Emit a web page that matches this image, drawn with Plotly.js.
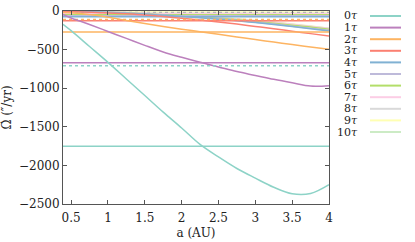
<!DOCTYPE html>
<html>
<head>
<meta charset="utf-8">
<script src="https://cdn.plot.ly/plotly-3.0.1.min.js"></script>
<style>html,body{margin:0;padding:0;background:#fff;}#chart{width:415px;height:242px;}</style>
</head>
<body>
<div id="chart"></div>
<script>
// ---- data ----
const seriesNames = ["0τ","1τ","2τ","3τ","4τ","5τ","6τ","7τ","8τ","9τ","10τ"];
const seriesColors = ["#8dd3c7","#bc80bd","#fdb462","#fb8072","#80b1d3","#bebada","#b3de69","#fccde5","#d9d9d9","#ffffb3","#ccebc5"];
const aGrid = [0.39,0.5,0.75,1.0,1.25,1.5,1.75,2.0,2.25,2.5,2.75,3.0,3.25,3.5,3.75,4.0];
const curve0 = [-172,-255,-460,-665,-880,-1095,-1310,-1515,-1728,-1890,-2040,-2165,-2283,-2368,-2364,-2250];
const curve1 = [-45,-90,-175,-265,-355,-445,-530,-600,-665,-725,-785,-835,-885,-930,-972,-967];
const curve2 = [-18,-22,-45,-80,-122,-162,-200,-235,-268,-302,-336,-370,-402,-435,-466,-497];
const curve3 = [-8,-10,-15,-25,-37,-52,-72,-95,-118,-143,-170,-200,-230,-262,-293,-325];
const curve4 = [-4,-5,-9,-18,-28,-40,-55,-70,-88,-106,-127,-150,-175,-202,-230,-260];
const curve5 = [-3,-4,-8,-16,-26,-38,-52,-67,-84,-102,-122,-145,-170,-196,-223,-250];
const curve6 = [-3,-4,-8,-15,-24,-35,-48,-62,-78,-95,-114,-135,-158,-183,-208,-238];
const curve7 = [-2,-3,-6,-12,-20,-30,-42,-56,-71,-88,-106,-127,-150,-174,-200,-228];
const curve8 = [-2,-3,-6,-12,-19,-29,-41,-54,-69,-86,-104,-125,-147,-171,-197,-225];
const curve9 = [-2,-3,-5,-11,-18,-28,-40,-53,-68,-84,-102,-122,-144,-168,-194,-222];
const curve10 = [-2,-3,-6,-12,-20,-31,-43,-57,-72,-89,-108,-129,-152,-177,-203,-232];
const constSolid = [-1752,-670,-272,-125,-75,-62,-50,-35,-28,-12,-45];
const constDashed = [-708,null,-110,null,null,null,null,null,-20,null,null];
const xTicks = [0.5,1,1.5,2,2.5,3,3.5,4];
const yTicks = [-2500,-2000,-1500,-1000,-500,0];
const xRange = [0.39,4.0];

const curves = [curve0,curve1,curve2,curve3,curve4,curve5,curve6,curve7,curve8,curve9,curve10];
const font = "DejaVu Serif";

const traces = [];
const order = [10,9,8,7,6,5,4,3,2,1,0];
order.forEach(i => {
  traces.push({x:[xRange[0],xRange[1]], y:[constSolid[i],constSolid[i]], mode:'lines',
    line:{color:seriesColors[i], width:1.5}, showlegend:false, hoverinfo:'skip'});
  if (constDashed[i] !== null) {
    traces.push({x:[xRange[0],xRange[1]], y:[constDashed[i],constDashed[i]], mode:'lines',
      line:{color: i===8 ? '#b5b5b5' : seriesColors[i], width:1.5, dash:'3px,3px'}, showlegend:false, hoverinfo:'skip'});
  }
  traces.push({x:aGrid, y:curves[i], mode:'lines',
    line:{color:seriesColors[i], width:1.5, shape:'spline', smoothing:1}, showlegend:false, name:seriesNames[i]});
});

// custom legend (label left, line sample right)
const L = 63, R = 329, T = 11, B = 204;
const annotations = [], shapes = [];
seriesNames.forEach((nm, i) => {
  const ypx = 16 + i*11.6;
  const yp = 1 - (ypx - T)/(B - T);
  annotations.push({xref:'paper', yref:'paper', x:(359-L)/(R-L), y:yp, xanchor:'right', yanchor:'middle',
    text: nm.replace('τ','<i>τ</i>'), showarrow:false, font:{family:font, size:11, color:'#222'},
    borderpad:0});
  shapes.push({type:'line', xref:'paper', yref:'paper', x0:(370-L)/(R-L), x1:(401-L)/(R-L), y0:yp, y1:yp,
    line:{color:seriesColors[i], width:2}});
});

const axisCommon = {showgrid:false, zeroline:false, showline:true, linecolor:'#555', linewidth:1,
  mirror:'ticks', ticks:'inside', ticklen:4, tickcolor:'#555', tickwidth:1,
  tickfont:{family:font, size:12, color:'#222'}};

const layout = {
  width:415, height:242,
  margin:{l:L, r:415-R, t:T, b:242-B},
  paper_bgcolor:'#fff', plot_bgcolor:'#fff',
  showlegend:false,
  xaxis: Object.assign({}, axisCommon, {range:xRange, tickvals:xTicks, ticklabelstandoff:3,
    title:{text:'a (AU)', font:{family:font, size:12, color:'#222'}, standoff:4}}),
  yaxis: Object.assign({}, axisCommon, {range:[-2500,0], tickvals:yTicks,
    title:{text:'Ω̇ (″/yr)', font:{family:font, size:12, color:'#222'}, standoff:8}}),
  annotations: annotations,
  shapes: shapes
};

Plotly.newPlot('chart', traces, layout, {staticPlot:true, displayModeBar:false});
</script>
</body>
</html>
